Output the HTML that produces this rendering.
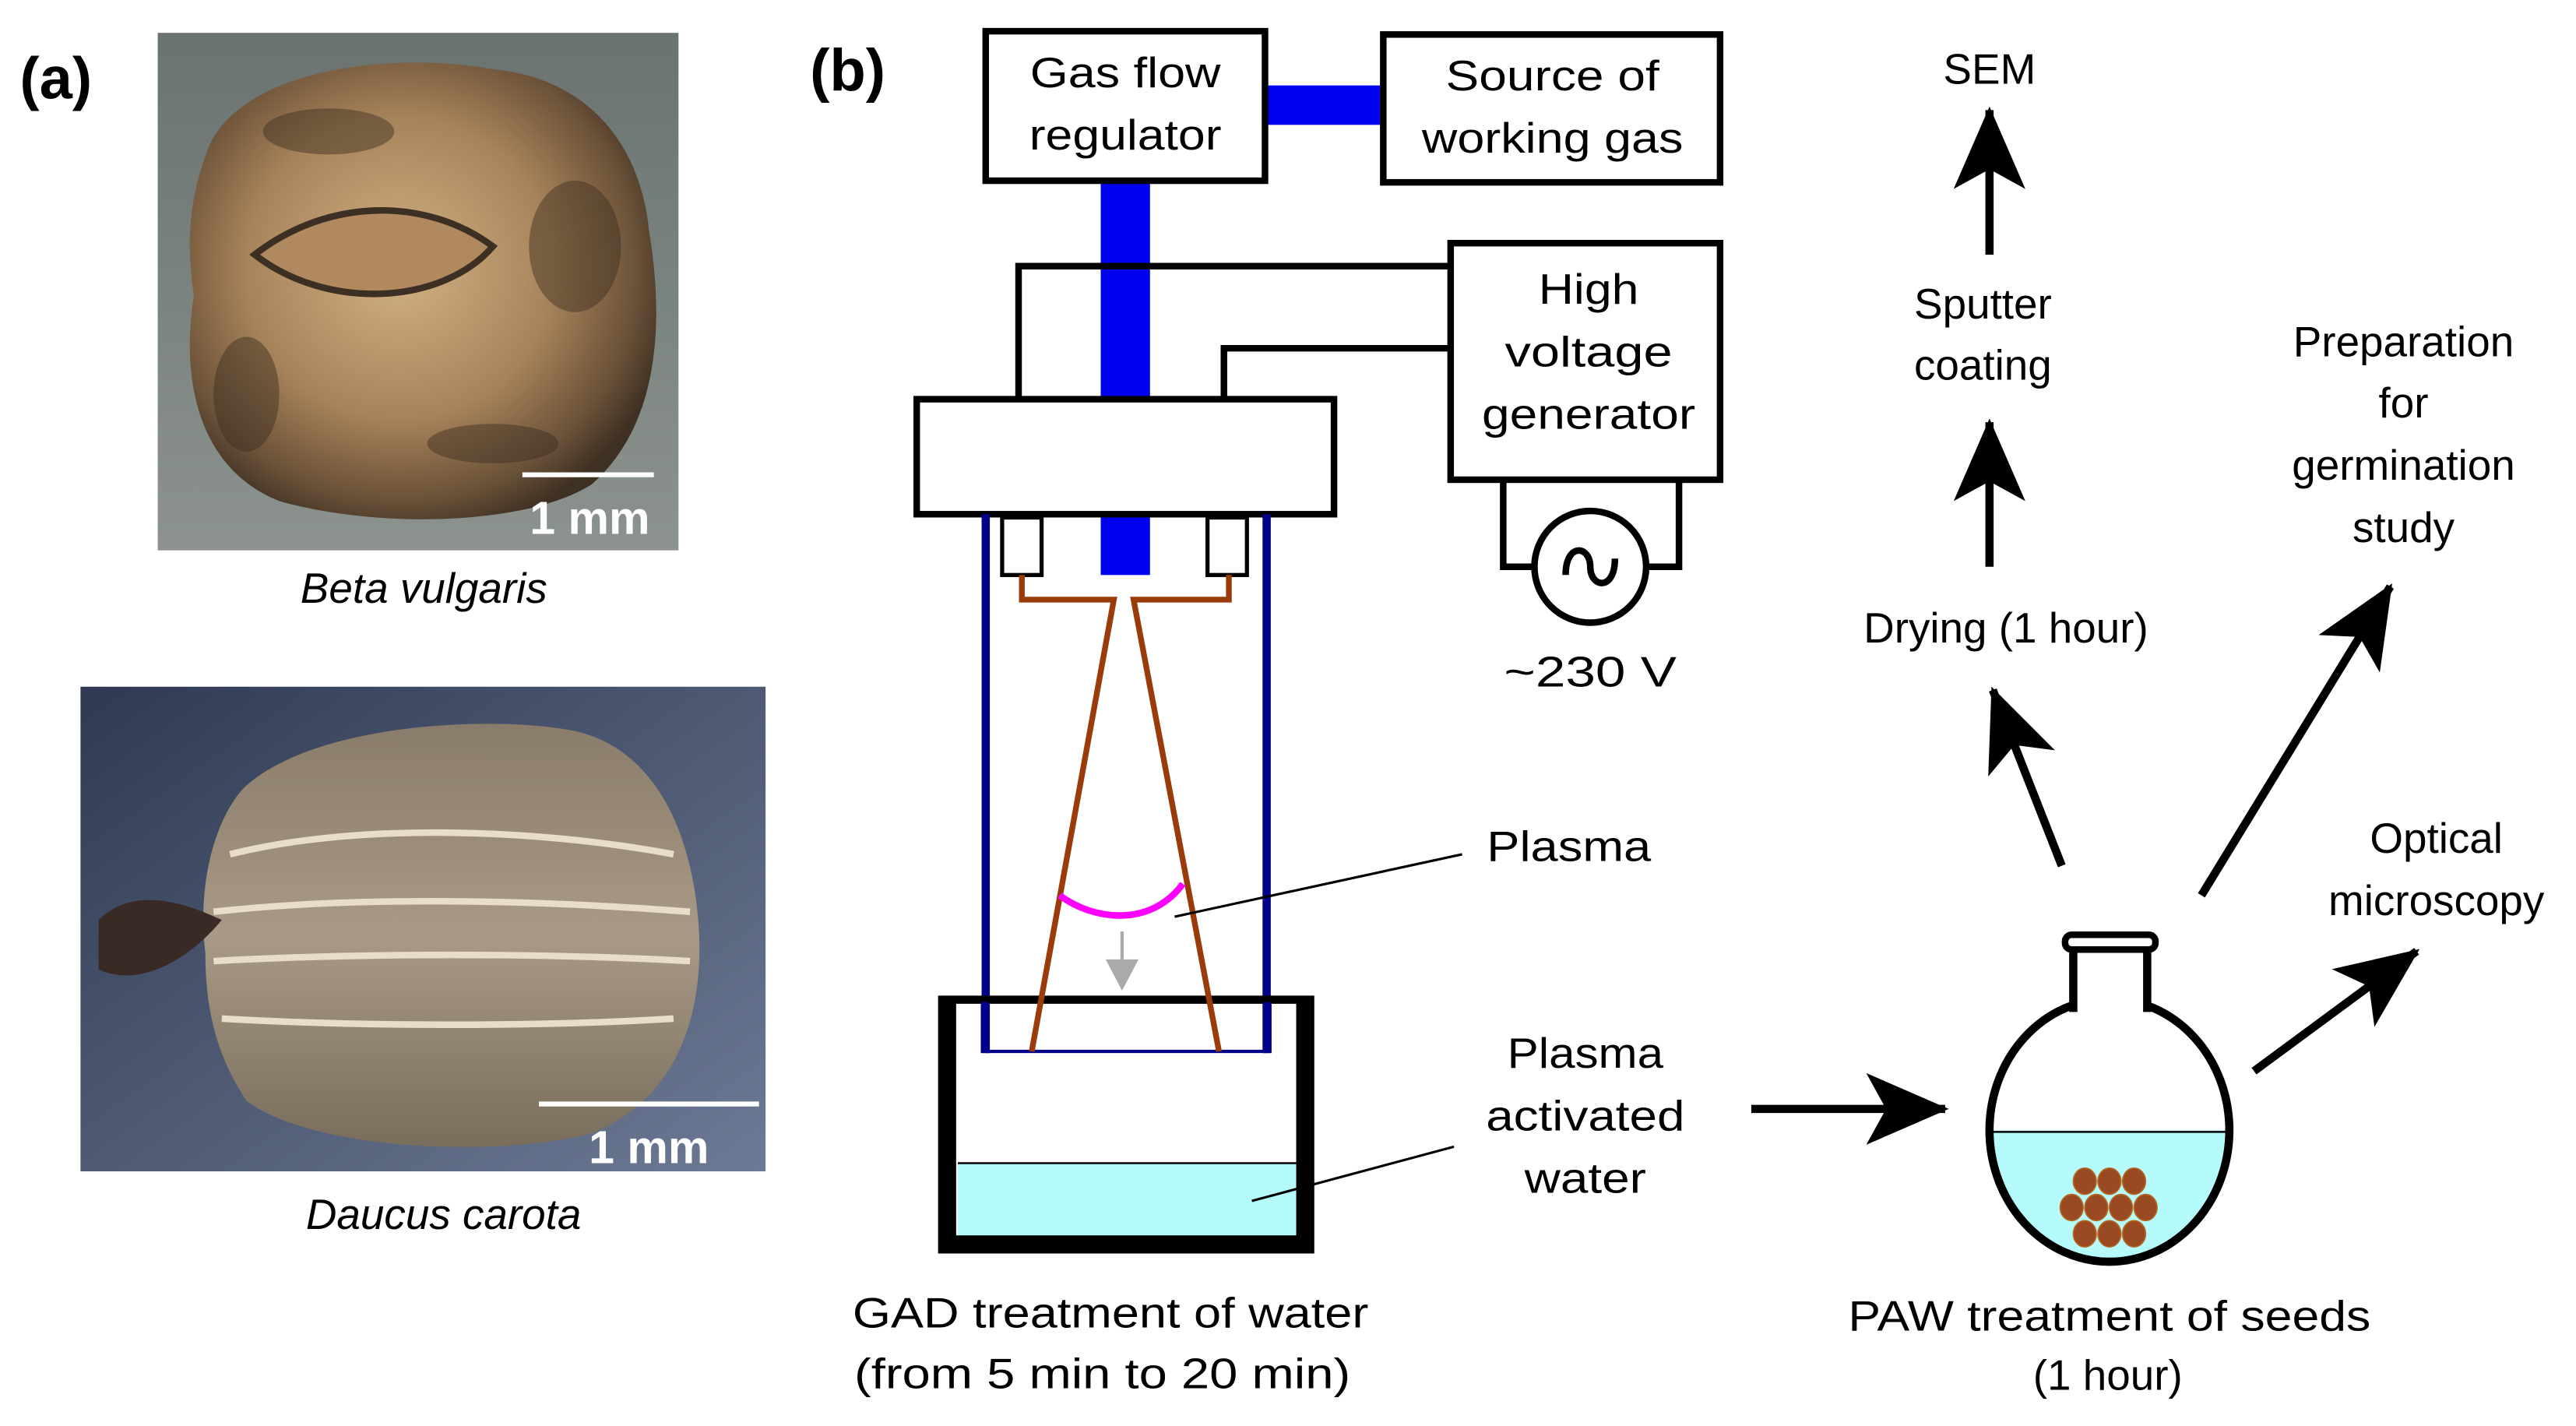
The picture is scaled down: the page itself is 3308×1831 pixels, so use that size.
<!DOCTYPE html>
<html><head><meta charset="utf-8"><style>
html,body{margin:0;padding:0;background:#fff}
svg{display:block}
text{font-family:"Liberation Sans",Arial,sans-serif;fill:#000}
</style></head><body>
<svg width="3308" height="1831" viewBox="0 0 1568 868" preserveAspectRatio="none" xmlns="http://www.w3.org/2000/svg">
<defs>
<marker id="ah" markerUnits="userSpaceOnUse" markerWidth="60" markerHeight="60" viewBox="-50 -25 55 50" refX="0" refY="0" orient="auto">
<path d="M2,0 L-44,-20 L-33,0 L-44,20 Z" fill="#000"/>
</marker>
<radialGradient id="g1" cx="0.45" cy="0.45" r="0.6">
<stop offset="0" stop-color="#d2b283"/><stop offset="0.55" stop-color="#a7835a"/><stop offset="0.85" stop-color="#6a5138"/><stop offset="1" stop-color="#3e3022"/>
</radialGradient>
<linearGradient id="bg1" x1="0" y1="0" x2="0" y2="1"><stop offset="0" stop-color="#6a7370"/><stop offset="1" stop-color="#8c938f"/></linearGradient>
<linearGradient id="bg2" x1="0" y1="0" x2="1" y2="1"><stop offset="0" stop-color="#2f3a52"/><stop offset="1" stop-color="#6d7a95"/></linearGradient>
<linearGradient id="g2" x1="0" y1="0" x2="0" y2="1"><stop offset="0" stop-color="#8a7c6a"/><stop offset="0.5" stop-color="#a89a86"/><stop offset="1" stop-color="#7a6d5c"/></linearGradient>
<clipPath id="fl"><ellipse cx="1284" cy="688" rx="73" ry="80"/></clipPath>
</defs>

<!-- (a) -->
<text x="12" y="60" font-size="36" font-weight="bold">(a)</text>
<rect x="96" y="20" width="317" height="315" fill="url(#bg1)"/>
<path d="M125,95 C140,45 230,30 300,42 C360,48 390,90 395,140 C405,200 400,260 360,295 C320,320 230,322 170,305 C120,285 110,230 118,180 C112,140 118,115 125,95 Z" fill="url(#g1)"/>
<g fill="#3a2c20" opacity="0.45">
<ellipse cx="350" cy="150" rx="28" ry="40"/><ellipse cx="200" cy="80" rx="40" ry="14"/><ellipse cx="150" cy="240" rx="20" ry="35"/><ellipse cx="300" cy="270" rx="40" ry="12"/>
</g>
<path d="M155,155 C200,120 260,120 300,150 C270,185 200,190 155,155 Z" fill="#b08a5e" stroke="#3c3024" stroke-width="4"/>
<line x1="318" y1="289" x2="398" y2="289" stroke="#fff" stroke-width="3"/>
<text x="359" y="325" font-size="28" font-weight="bold" text-anchor="middle" style="fill:#fff">1 mm</text>
<text x="258" y="367" font-size="26" font-style="italic" text-anchor="middle">Beta vulgaris</text>

<rect x="49" y="418" width="417" height="295" fill="url(#bg2)"/>
<path d="M148,480 C190,440 300,435 350,445 C395,455 420,500 425,560 C430,620 410,670 360,690 C300,705 190,700 150,670 C130,640 125,610 125,580 C120,540 130,500 148,480 Z" fill="url(#g2)"/>
<path d="M60,560 C80,540 110,548 135,560 C110,590 80,600 60,590 Z" fill="#3a2a26"/>
<g stroke="#e8dccb" stroke-width="4" fill="none">
<path d="M140,520 C220,500 330,505 410,520"/>
<path d="M130,555 C220,545 330,548 420,555"/>
<path d="M130,585 C220,580 330,580 420,585"/>
<path d="M135,620 C220,625 330,625 410,620"/>
</g>
<line x1="328" y1="672" x2="462" y2="672" stroke="#fff" stroke-width="3"/>
<text x="395" y="708" font-size="28" font-weight="bold" text-anchor="middle" style="fill:#fff">1 mm</text>
<text x="270" y="748" font-size="26" font-style="italic" text-anchor="middle">Daucus carota</text>

<!-- (b) -->
<text x="493" y="55" font-size="36" font-weight="bold">(b)</text>

<rect x="770" y="52" width="70" height="24" fill="#0000f0"/>
<rect x="670" y="110" width="30" height="240" fill="#0000f0"/>

<polyline points="620,242 620,162 882,162" fill="none" stroke="#000" stroke-width="4"/>
<polyline points="745,242 745,212 882,212" fill="none" stroke="#000" stroke-width="4"/>

<rect x="600" y="19" width="170" height="91" fill="#fff" stroke="#000" stroke-width="4"/>
<text x="685" y="53" font-size="26" text-anchor="middle" textLength="116" lengthAdjust="spacingAndGlyphs">Gas flow</text>
<text x="685" y="91" font-size="26" text-anchor="middle" textLength="117" lengthAdjust="spacingAndGlyphs">regulator</text>

<rect x="842" y="21" width="205" height="90" fill="#fff" stroke="#000" stroke-width="4"/>
<text x="945" y="55" font-size="26" text-anchor="middle" textLength="130" lengthAdjust="spacingAndGlyphs">Source of</text>
<text x="945" y="93" font-size="26" text-anchor="middle" textLength="159" lengthAdjust="spacingAndGlyphs">working gas</text>

<rect x="883" y="148" width="164" height="144" fill="#fff" stroke="#000" stroke-width="4"/>
<text x="967" y="185" font-size="26" text-anchor="middle" textLength="61" lengthAdjust="spacingAndGlyphs">High</text>
<text x="967" y="223" font-size="26" text-anchor="middle" textLength="102" lengthAdjust="spacingAndGlyphs">voltage</text>
<text x="967" y="261" font-size="26" text-anchor="middle" textLength="130" lengthAdjust="spacingAndGlyphs">generator</text>

<polyline points="967,345 915,345 915,292" fill="none" stroke="#000" stroke-width="4"/>
<polyline points="967,345 1022,345 1022,292" fill="none" stroke="#000" stroke-width="4"/>
<circle cx="968" cy="345" r="34" fill="#fff" stroke="#000" stroke-width="4"/>
<path d="M953,350 C953,330 968,332 968,345 C968,358 983,360 983,340" fill="none" stroke="#000" stroke-width="4"/>
<text x="968" y="418" font-size="26" text-anchor="middle" textLength="105" lengthAdjust="spacingAndGlyphs">~230 V</text>

<rect x="558" y="243" width="254" height="70" fill="#fff" stroke="#000" stroke-width="4"/>

<line x1="600" y1="313" x2="600" y2="641" stroke="#00008b" stroke-width="5"/>
<line x1="771" y1="313" x2="771" y2="641" stroke="#00008b" stroke-width="5"/>

<rect x="583" y="708" width="206" height="44" fill="#b6fbfb"/>
<line x1="583" y1="708" x2="789" y2="708" stroke="#000" stroke-width="1.2"/>
<path d="M571,606 L800,606 L800,763 L571,763 Z M582,611 L789,611 L789,752 L582,752 Z" fill="#000" fill-rule="evenodd"/>
<line x1="600" y1="640" x2="771" y2="640" stroke="#00008b" stroke-width="2"/>
<rect x="597" y="610" width="5" height="31" fill="#00008b"/>
<rect x="769" y="610" width="5" height="31" fill="#00008b"/>

<rect x="610" y="315" width="24" height="35" fill="#fff" stroke="#000" stroke-width="2.5"/>
<rect x="735" y="315" width="24" height="35" fill="#fff" stroke="#000" stroke-width="2.5"/>

<polyline points="622,350 622,365 678,365 628,640" fill="none" stroke="#9a3b0c" stroke-width="3.5"/>
<polyline points="748,350 748,365 690,365 742,640" fill="none" stroke="#9a3b0c" stroke-width="3.5"/>

<path d="M645,545 C665,560 700,565 720,538" fill="none" stroke="#f0f" stroke-width="4"/>
<line x1="683" y1="567" x2="683" y2="584" stroke="#aaa" stroke-width="2"/>
<path d="M673,584 L693,584 L683,603 Z" fill="#aaa"/>
<line x1="715" y1="558" x2="890" y2="520" stroke="#000" stroke-width="1.5"/>
<text x="955" y="524" font-size="26" text-anchor="middle" textLength="100" lengthAdjust="spacingAndGlyphs">Plasma</text>

<line x1="762" y1="731" x2="885" y2="698" stroke="#000" stroke-width="1.5"/>
<text x="965" y="650" font-size="26" text-anchor="middle" textLength="95" lengthAdjust="spacingAndGlyphs">Plasma</text>
<text x="965" y="688" font-size="26" text-anchor="middle" textLength="121" lengthAdjust="spacingAndGlyphs">activated</text>
<text x="965" y="726" font-size="26" text-anchor="middle" textLength="74" lengthAdjust="spacingAndGlyphs">water</text>

<text x="676" y="808" font-size="26" text-anchor="middle" textLength="314" lengthAdjust="spacingAndGlyphs">GAD treatment of water</text>
<text x="671" y="845" font-size="26" text-anchor="middle" textLength="302" lengthAdjust="spacingAndGlyphs">(from 5 min to 20 min)</text>

<g stroke="#000" stroke-width="5" fill="none" marker-end="url(#ah)">
<line x1="1066" y1="675" x2="1184" y2="675"/>
<line x1="1211" y1="155" x2="1211" y2="67"/>
<line x1="1211" y1="345" x2="1211" y2="257"/>
<line x1="1255" y1="527" x2="1213" y2="420"/>
<line x1="1340" y1="545" x2="1455" y2="357"/>
<line x1="1372" y1="652" x2="1471" y2="579"/>
</g>

<ellipse cx="1284" cy="688" rx="73" ry="80" fill="#fff"/>
<rect x="1210" y="688" width="150" height="90" fill="#b6fbfb" clip-path="url(#fl)"/>
<line x1="1210" y1="689" x2="1358" y2="689" stroke="#000" stroke-width="1.2"/>
<g fill="#9a4a22" stroke="#b8651e" stroke-width="0.8">
<ellipse cx="1269" cy="719" rx="7" ry="8"/><ellipse cx="1284" cy="719" rx="7" ry="8"/><ellipse cx="1299" cy="719" rx="7" ry="8"/>
<ellipse cx="1261" cy="735" rx="7" ry="8"/><ellipse cx="1276" cy="735" rx="7" ry="8"/><ellipse cx="1291" cy="735" rx="7" ry="8"/><ellipse cx="1306" cy="735" rx="7" ry="8"/>
<ellipse cx="1269" cy="751" rx="7" ry="8"/><ellipse cx="1284" cy="751" rx="7" ry="8"/><ellipse cx="1299" cy="751" rx="7" ry="8"/>
</g>
<ellipse cx="1284" cy="688" rx="73" ry="80" fill="none" stroke="#000" stroke-width="5"/>
<rect x="1262" y="576" width="45" height="40" fill="#fff"/>
<line x1="1262" y1="578" x2="1262" y2="616" stroke="#000" stroke-width="5"/>
<line x1="1307" y1="578" x2="1307" y2="616" stroke="#000" stroke-width="5"/>
<rect x="1257" y="569" width="55" height="9" rx="4" fill="#fff" stroke="#000" stroke-width="4"/>

<text x="1284" y="810" font-size="26" text-anchor="middle" textLength="318" lengthAdjust="spacingAndGlyphs">PAW treatment of seeds</text>
<text x="1283" y="846" font-size="26" text-anchor="middle">(1 hour)</text>

<text x="1211" y="51" font-size="26" text-anchor="middle">SEM</text>
<text x="1207" y="194" font-size="26" text-anchor="middle">Sputter</text>
<text x="1207" y="231" font-size="26" text-anchor="middle">coating</text>
<text x="1221" y="391" font-size="26" text-anchor="middle">Drying (1 hour)</text>
<text x="1463" y="217" font-size="26" text-anchor="middle">Preparation</text>
<text x="1463" y="254" font-size="26" text-anchor="middle">for</text>
<text x="1463" y="292" font-size="26" text-anchor="middle">germination</text>
<text x="1463" y="330" font-size="26" text-anchor="middle">study</text>
<text x="1483" y="519" font-size="26" text-anchor="middle">Optical</text>
<text x="1483" y="557" font-size="26" text-anchor="middle">microscopy</text>
</svg>
</body></html>
